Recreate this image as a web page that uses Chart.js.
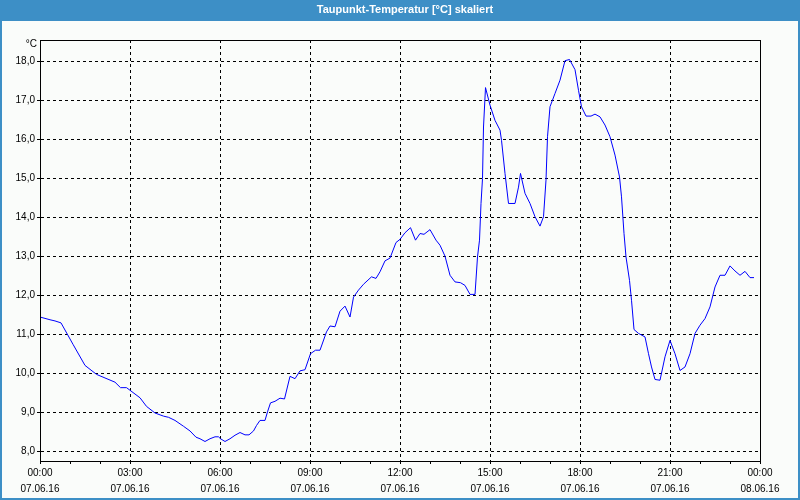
<!DOCTYPE html>
<html lang="de">
<head>
    <meta charset="UTF-8">
    <title>Taupunkt-Temperatur</title>
    <script src="https://cdn.jsdelivr.net/npm/chart.js"></script>
    <style>
        body {
            margin: 0;
            background: #fafcfa;
        }
        #chart {
            display: block;
        }
    </style>
</head>
<body>
    <canvas id="chart" width="800" height="500"></canvas>

    <script>
        // Zeit in Minuten ab 07.06.16 00:00
        const times = [
            0, 20, 30, 42, 66, 90, 113, 150, 161, 173, 200, 213, 230, 247, 257, 270, 287, 300, 312, 320,
            330, 340, 350, 357, 361, 370, 380, 390, 400, 410, 418, 427, 433, 440, 450, 455, 461, 470, 480, 489,
            500, 510, 520, 530, 541, 551, 560, 573, 580, 590, 600, 610, 620, 627, 637, 647, 663, 672, 680, 690,
            700, 712, 720, 730, 741, 751, 760, 768, 780, 792, 800, 810, 820, 830, 841, 850, 860, 870, 875, 879,
            882, 885, 887, 891, 900, 910, 920, 923, 930, 937, 950, 957, 961, 970, 980, 990, 1000, 1007, 1012, 1015,
            1020, 1030, 1040, 1050, 1059, 1070, 1077, 1083, 1092, 1102, 1110, 1120, 1130, 1140, 1150, 1159, 1163, 1168, 1172, 1179,
            1183, 1188, 1197, 1210, 1217, 1223, 1230, 1240, 1250, 1260, 1270, 1280, 1290, 1300, 1310, 1320, 1330, 1340, 1350, 1360,
            1370, 1380, 1390, 1400, 1410, 1420, 1428
        ];
        const dewPoint = [
            11.45, 11.38, 11.35, 11.30, 10.75, 10.21, 9.98, 9.78, 9.64, 9.64, 9.38, 9.16, 8.99, 8.91, 8.88, 8.80, 8.65, 8.53, 8.37, 8.33,
            8.26, 8.33, 8.38, 8.38, 8.33, 8.26, 8.33, 8.42, 8.49, 8.43, 8.43, 8.53, 8.67, 8.80, 8.80, 9.02, 9.25, 9.29, 9.37, 9.35,
            9.93, 9.87, 10.07, 10.10, 10.51, 10.60, 10.60, 11.07, 11.22, 11.20, 11.60, 11.73, 11.45, 11.96, 12.14, 12.29, 12.48, 12.44, 12.61, 12.89,
            12.96, 13.36, 13.44, 13.61, 13.74, 13.42, 13.59, 13.57, 13.69, 13.42, 13.29, 13.01, 12.52, 12.35, 12.33, 12.26, 12.03, 12.03, 12.99, 13.42,
            14.36, 15.00, 16.32, 17.33, 16.88, 16.49, 16.24, 15.98, 15.13, 14.36, 14.36, 14.78, 15.13, 14.62, 14.36, 14.02, 13.78, 14.02, 14.96, 16.07,
            16.84, 17.18, 17.52, 18.02, 18.05, 17.79, 17.26, 16.84, 16.60, 16.60, 16.65, 16.58, 16.37, 16.07, 15.60, 15.04, 14.53, 13.59, 12.99, 12.39,
            11.88, 11.13, 11.03, 10.94, 10.51, 10.17, 9.85, 9.83, 10.43, 10.85, 10.51, 10.08, 10.17, 10.51, 11.03, 11.24, 11.41, 11.71, 12.22, 12.52,
            12.52, 12.76, 12.63, 12.52, 12.62, 12.46, 12.46
        ];
        const yTicks = [8, 9, 10, 11, 12, 13, 14, 15, 16, 17, 18];
        const xTickTimes = ['00:00', '03:00', '06:00', '09:00', '12:00', '15:00', '18:00', '21:00', '00:00'];
        const xTickDates = ['07.06.16', '07.06.16', '07.06.16', '07.06.16', '07.06.16', '07.06.16', '07.06.16', '07.06.16', '08.06.16'];

        const titleText = 'Taupunkt-Temperatur [°C] skaliert';
        const font = 'Liberation Sans';

        // Hintergrund, Titelleiste, Rahmen
        const framePlugin = {
            id: 'frame',
            beforeDraw(chart) {
                const ctx = chart.ctx;
                ctx.save();
                ctx.fillStyle = '#fafcfa';
                ctx.fillRect(0, 0, 800, 500);
                ctx.fillStyle = '#3d8fc6';
                ctx.fillRect(0, 0, 800, 21);
                ctx.fillRect(0, 0, 2, 500);
                ctx.fillRect(798, 0, 2, 500);
                ctx.fillRect(0, 498, 800, 2);
                ctx.fillStyle = '#ffffff';
                ctx.font = 'bold 11px "' + font + '"';
                ctx.textAlign = 'center';
                ctx.textBaseline = 'middle';
                ctx.fillText(titleText, 405, 10);
                ctx.restore();
            },
            afterDraw(chart) {
                const ctx = chart.ctx;
                const a = chart.chartArea;
                ctx.save();
                ctx.strokeStyle = '#000000';
                ctx.lineWidth = 1;
                ctx.strokeRect(Math.round(a.left) + 0.5, Math.round(a.top) + 0.5,
                    Math.round(a.right - a.left), Math.round(a.bottom - a.top));
                ctx.fillStyle = '#000000';
                ctx.font = '10px "' + font + '"';
                ctx.textAlign = 'right';
                ctx.textBaseline = 'middle';
                ctx.fillText('°C', 37, 44);
                ctx.restore();
            }
        };

        const ctx = document.getElementById('chart').getContext('2d');
        new Chart(ctx, {
            type: 'line',
            data: {
                datasets: [{
                    data: times.map((t, i) => ({ x: t, y: dewPoint[i] })),
                    borderColor: '#0000ff',
                    borderWidth: 1,
                    pointRadius: 0,
                    tension: 0,
                    fill: false
                }]
            },
            options: {
                responsive: false,
                animation: false,
                layout: { padding: { left: 0, top: 40, right: 40, bottom: 0 } },
                plugins: {
                    legend: { display: false },
                    title: { display: false },
                    tooltip: { enabled: false }
                },
                scales: {
                    x: {
                        type: 'linear',
                        min: 0,
                        max: 1440,
                        offset: false,
                        afterBuildTicks(scale) {
                            const t = [];
                            for (let v = 0; v <= 1440; v += 60) t.push({ value: v });
                            scale.ticks = t;
                        },
                        afterFit(scale) { scale.height = 39; },
                        grid: {
                            color: (c) => (c.tick && c.tick.value % 180 === 0) ? '#000000' : 'rgba(0,0,0,0)',
                            tickColor: '#000000',
                            tickBorderDash: [],
                            tickLength: 3,
                            lineWidth: 1
                        },
                        border: { display: true, color: '#000000', width: 1, dash: [3, 3] },
                        ticks: {
                            autoSkip: false,
                            maxRotation: 0,
                            padding: 1,
                            color: '#000000',
                            font: { family: font, size: 10, lineHeight: '16px' },
                            callback: (v) => v % 180 === 0 ? [xTickTimes[v / 180], xTickDates[v / 180]] : ''
                        }
                    },
                    y: {
                        min: 7.76,
                        max: 18.55,
                        afterBuildTicks(scale) {
                            scale.ticks = yTicks.map(v => ({ value: v }));
                        },
                        afterFit(scale) { scale.width = 40; },
                        grid: {
                            color: '#000000',
                            tickBorderDash: [],
                            tickLength: 3,
                            lineWidth: 1
                        },
                        border: { display: true, color: '#000000', width: 1, dash: [3, 3] },
                        ticks: {
                            padding: 2,
                            color: '#000000',
                            font: { family: font, size: 10 },
                            callback: (v) => v.toFixed(1).replace('.', ',')
                        }
                    }
                }
            },
            plugins: [framePlugin]
        });
    </script>
</body>
</html>
